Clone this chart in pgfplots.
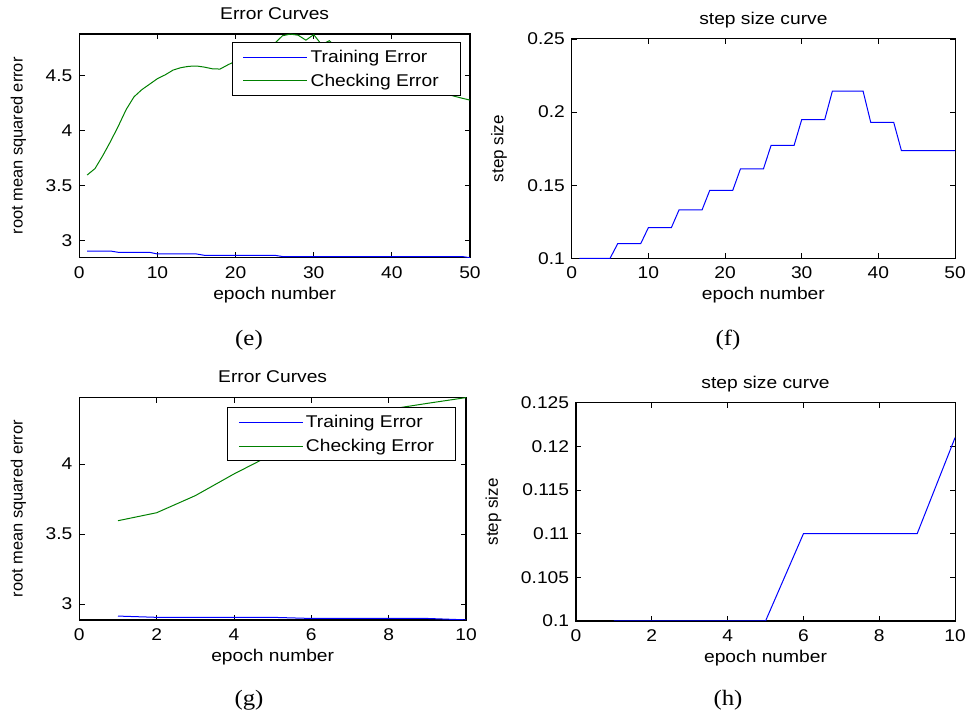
\documentclass[border=0pt]{standalone}
\usepackage{pgfplots}
\pgfplotsset{compat=1.18}
\usepackage{fontspec}
\setmainfont{Liberation Sans}[FakeStretch=1.13]
\newfontfamily\ylabfont{Liberation Sans}
\newfontfamily\capfont{Liberation Serif}[FakeStretch=1.13]
\definecolor{mblue}{rgb}{0,0,1}
\definecolor{mgreen}{rgb}{0,0.5,0}

\pgfplotsset{
  mstyle/.style={
    scale only axis,
    axis line style={line width=0.8pt},
    every tick/.style={line width=0.6pt, black},
    major tick length=4pt,
    tick align=inside,
    font=\fontsize{12.75}{15}\selectfont,
    /pgf/number format/assume math mode=true,
    scaled ticks=false,
    xticklabel style={anchor=base, yshift=-15.5pt},
    yticklabel style={anchor=east, inner sep=0pt, xshift=-5pt},
    title style={at={(axis description cs:0.5,1)}, anchor=base, yshift=5pt},
    xlabel style={at={(axis description cs:0.5,0)}, anchor=base, yshift=-31.2pt},
    legend style={anchor=north east, draw=black, line width=0.8pt, fill=white,
      font=\fontsize{12.75}{15}\selectfont, inner xsep=8pt, inner ysep=3.3pt,
      nodes={inner sep=2pt}, row sep=3.2pt, cells={anchor=west}},
    legend image code/.code={\draw[#1] (0pt,0pt) -- (48pt,0pt);},
  }
}

\pgfplotstableread{
x chk trn
1 3.594 2.903
2 3.652 2.903
3 3.770 2.903
4 3.900 2.903
5 4.040 2.891
6 4.190 2.891
7 4.305 2.891
8 4.370 2.891
9 4.420 2.891
10 4.470 2.876
11 4.505 2.876
12 4.548 2.876
13 4.570 2.876
14 4.582 2.876
15 4.585 2.876
16 4.575 2.864
17 4.560 2.864
18 4.557 2.864
19 4.595 2.864
20 4.630 2.864
21 4.660 2.864
22 4.690 2.864
23 4.720 2.864
24 4.750 2.864
25 4.790 2.864
26 4.860 2.853
27 4.875 2.853
28 4.865 2.853
29 4.820 2.853
30 4.870 2.853
31 4.780 2.853
32 4.815 2.853
33 4.750 2.853
34 4.730 2.853
35 4.700 2.853
36 4.680 2.853
37 4.650 2.853
38 4.620 2.853
39 4.600 2.853
40 4.570 2.853
41 4.540 2.853
42 4.510 2.853
43 4.470 2.853
44 4.430 2.853
45 4.390 2.853
46 4.350 2.853
47 4.330 2.853
48 4.310 2.853
49 4.292 2.853
50 4.275 2.842
}\errE

\pgfplotstableread{
x s
1 0.1
2 0.1
3 0.1
4 0.1
5 0.1
6 0.11
7 0.11
8 0.11
9 0.11
10 0.121
11 0.121
12 0.121
13 0.121
14 0.1331
15 0.1331
16 0.1331
17 0.1331
18 0.14641
19 0.14641
20 0.14641
21 0.14641
22 0.161051
23 0.161051
24 0.161051
25 0.161051
26 0.177156
27 0.177156
28 0.177156
29 0.177156
30 0.194872
31 0.194872
32 0.194872
33 0.194872
34 0.214359
35 0.214359
36 0.214359
37 0.214359
38 0.214359
39 0.192923
40 0.192923
41 0.192923
42 0.192923
43 0.173631
44 0.173631
45 0.173631
46 0.173631
47 0.173631
48 0.173631
49 0.173631
50 0.173631
}\stepF

\pgfplotstableread{
x chk trn
1 3.595 2.914
2 3.652 2.905
3 3.774 2.905
4 3.929 2.905
5 4.070 2.905
6 4.190 2.897
7 4.300 2.897
8 4.390 2.897
9 4.433 2.897
10 4.474 2.887
}\errG

\pgfplotstableread{
x s
1 0.1
2 0.1
3 0.1
4 0.1
5 0.1
6 0.11
7 0.11
8 0.11
9 0.11
10 0.121
}\stepH

\begin{document}
\begin{tikzpicture}
\path[use as bounding box] (0pt,0pt) rectangle (726pt,538.5pt);

% (e)
\begin{axis}[mstyle, at={(59.5pt,345.2pt)}, anchor=south west,
  width=293pt, height=167.8pt,
  xmin=0, xmax=50, ymin=2.842, ymax=4.876,
  xtick={0,10,20,30,40,50},
  ytick={3,3.5,4,4.5}, yticklabels={3,3.5,4,4.5},
  title={Error Curves}, xlabel={epoch number},
  ylabel={\ylabfont\fontsize{12.3}{14}\selectfont root mean squared error},
  ylabel style={at={(axis description cs:-0.1561,0.5)}, anchor=center},
  legend style={at={(0.976,0.963)}}]
\addlegendimage{color=mblue, line width=0.75pt}
\addlegendentry{Training Error\hspace*{6pt}}
\addlegendimage{color=mgreen, line width=0.75pt}
\addlegendentry{Checking Error\hspace*{6pt}}
\addplot[color=mblue, line width=0.75pt, forget plot] table[x=x, y=trn] {\errE};
\addplot[color=mgreen, line width=0.75pt, forget plot] table[x=x, y=chk] {\errE};
\end{axis}

% (f)
\begin{axis}[mstyle, at={(428.8pt,344.8pt)}, anchor=south west,
  width=287.5pt, height=164.5pt,
  xmin=0, xmax=50, ymin=0.1, ymax=0.25,
  xtick={0,10,20,30,40,50},
  ytick={0.1,0.15,0.2,0.25}, yticklabels={0.1,0.15,0.2,0.25},
  title={step size curve}, xlabel={epoch number},
  ylabel={\ylabfont step size},
  ylabel style={at={(axis description cs:-0.1897,0.5)}, anchor=center}]
\addplot[color=mblue, line width=0.75pt] table[x=x, y=s] {\stepF};
\end{axis}

% (g)
\begin{axis}[mstyle, at={(59.5pt,73.5pt)}, anchor=south west,
  width=290pt, height=167pt,
  xmin=0, xmax=10, ymin=2.886, ymax=4.476,
  xtick={0,2,4,6,8,10},
  ytick={3,3.5,4}, yticklabels={3,3.5,4},
  title={Error Curves}, xlabel={epoch number},
  ylabel={\ylabfont\fontsize{12.3}{14}\selectfont root mean squared error},
  ylabel style={at={(axis description cs:-0.1577,0.5)}, anchor=center},
  legend style={at={(0.974,0.955)}}]
\addlegendimage{color=mblue, line width=0.75pt}
\addlegendentry{Training Error\hspace*{6pt}}
\addlegendimage{color=mgreen, line width=0.75pt}
\addlegendentry{Checking Error\hspace*{6pt}}
\addplot[color=mblue, line width=0.75pt, forget plot] table[x=x, y=trn] {\errG};
\addplot[color=mgreen, line width=0.75pt, forget plot] table[x=x, y=chk] {\errG};
\end{axis}

% (h)
\begin{axis}[mstyle, at={(432pt,72.75pt)}, anchor=south west,
  width=284.3pt, height=163.7pt,
  xmin=0, xmax=10, ymin=0.1, ymax=0.125,
  xtick={0,2,4,6,8,10},
  ytick={0.1,0.105,0.11,0.115,0.12,0.125},
  yticklabels={0.1,0.105,0.11,0.115,0.12,0.125},
  title={step size curve}, xlabel={epoch number},
  ylabel={\ylabfont step size},
  ylabel style={at={(axis description cs:-0.218,0.5)}, anchor=center}]
\addplot[color=mblue, line width=0.75pt] table[x=x, y=s] {\stepH};
\end{axis}

\node[font=\capfont\fontsize{16.5}{18}\selectfont] at (186.75pt,283.5pt) {(e)};
\node[font=\capfont\fontsize{16.5}{18}\selectfont] at (546pt,283.5pt) {(f)};
\node[font=\capfont\fontsize{16.5}{18}\selectfont] at (186.75pt,13.5pt) {(g)};
\node[font=\capfont\fontsize{16.5}{18}\selectfont] at (546pt,13.5pt) {(h)};
\end{tikzpicture}
\end{document}
